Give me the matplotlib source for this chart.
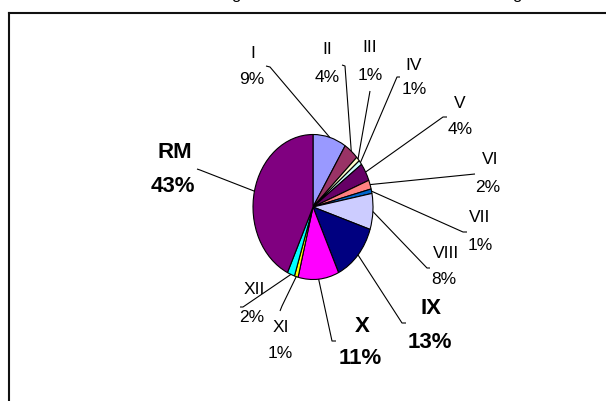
import numpy as np
import matplotlib
matplotlib.use("Agg")
import matplotlib.pyplot as plt
from matplotlib.lines import Line2D

# ---- data ----
categories = ["I", "II", "III", "IV", "V", "VI", "VII", "VIII", "IX", "X", "XI", "XII", "RM"]
values = [9, 4, 1, 1, 4, 2, 1, 8, 13, 11, 1, 2, 43]
colors = ["#9999FF", "#993366", "#FFFFCC", "#CCFFFF", "#660066", "#FF8080",
          "#0066CC", "#CCCCFF", "#000080", "#FF00FF", "#FFFF00", "#00FFFF", "#800080"]
bold_cats = {"IX", "X", "RM"}

# ---- layout (pixel positions, top-left origin) ----
W, H = 606, 401
CX, CY, RX, RY = 313, 207, 60, 72.5
name_pos = {"I": (253, 53), "II": (327, 50), "III": (370, 48), "IV": (414, 65),
            "V": (460, 103), "VI": (490, 160), "VII": (480, 218), "VIII": (446, 253),
            "IX": (431, 308), "X": (362, 327), "XI": (281, 327), "XII": (254, 290),
            "RM": (175, 153)}
pct_pos = {"I": (252, 80), "II": (327, 77), "III": (370, 75), "IV": (414, 90),
           "V": (460, 130), "VI": (488, 187), "VII": (480, 245), "VIII": (444, 279),
           "IX": (430, 342), "X": (360, 358), "XI": (280, 354), "XII": (252, 318),
           "RM": (173, 187)}
leader_end = {"I": [(270, 67), (266, 66)], "II": [(345, 66), (342, 65)],
              "III": [(370, 91)], "IV": [(397, 77), (400, 77)],
              "V": [(443, 117), (447, 117)], "VI": [(475, 174)],
              "VII": [(463, 232), (467, 232)], "VIII": [(427, 268), (430, 268)],
              "IX": [(402, 323), (406, 323)], "X": [(332, 341), (336, 341)],
              "XI": [(282, 306), (280, 311)], "XII": [(243, 307), (240, 307)],
              "RM": [(200, 170), (197, 169)]}

plt.rcParams["font.family"] = ["Liberation Sans", "DejaVu Sans"]

fig = plt.figure(figsize=(W / 100, H / 100), dpi=100)
ax = fig.add_axes([0, 0, 1, 1])
ax.pie(values, colors=colors, startangle=90, counterclock=False, radius=1,
       center=(0, 0), wedgeprops=dict(edgecolor="black", linewidth=0.8))
ax.set_aspect("auto")
ax.set_xlim(-CX / RX, (W - CX) / RX)
ax.set_ylim(-(H - CY) / RY, CY / RY)
ax.axis("off")


def px(x, y):
    return ((x - CX) / RX, (CY - y) / RY)


total = float(sum(values))
cum = 0.0
for cat, v in zip(categories, values):
    mid = (cum + v / 2) / total * 2 * np.pi
    cum += v
    sx, sy = np.sin(mid), np.cos(mid)
    pts = [px(*p) for p in leader_end[cat]]
    xs = [sx] + [p[0] for p in pts]
    ys = [sy] + [p[1] for p in pts]
    ax.plot(xs, ys, color="black", lw=0.8, solid_capstyle="butt")
    bold = cat in bold_cats
    fs = 16 if bold else 12.5
    fw = "bold" if bold else "normal"
    pct = f"{round(v / total * 100):d}%"
    ax.text(*px(*name_pos[cat]), cat, ha="center", va="center", fontsize=fs,
            fontweight=fw, color="black")
    ax.text(*px(*pct_pos[cat]), pct, ha="center", va="center", fontsize=fs,
            fontweight=fw, color="black")

# frame (partially visible chart area border)
fig.add_artist(Line2D([8.5 / W, 8.5 / W], [0, 1 - 12.5 / H], transform=fig.transFigure,
                      color="#111111", lw=1.5))
fig.add_artist(Line2D([8.5 / W, 1], [1 - 12.5 / H, 1 - 12.5 / H], transform=fig.transFigure,
                      color="#111111", lw=1.5))

# clipped title fragments at the very top (the reference title is cut off)
for xg in (236, 517):
    fig.text(xg / W, 1 + 0.5 / H, "g", ha="center", va="baseline", fontsize=12)

fig.savefig("out.png", dpi=100)
